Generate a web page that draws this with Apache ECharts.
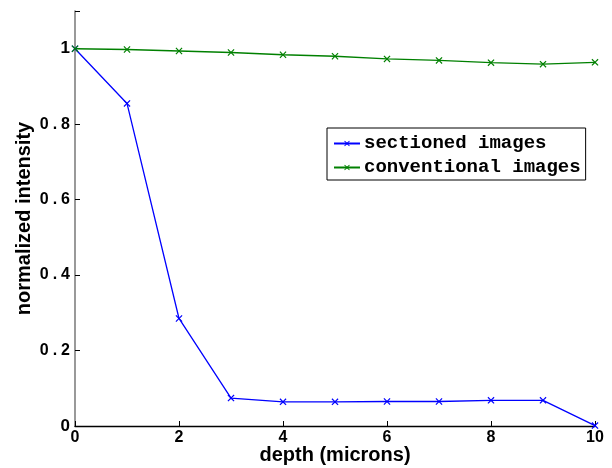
<!DOCTYPE html>
<html>
<head>
<meta charset="utf-8">
<script src="https://cdn.jsdelivr.net/npm/echarts@6/dist/echarts.min.js"></script>
<style>html,body{margin:0;padding:0;background:#fff}#c{width:612px;height:468px}</style>
</head>
<body>
<div id="c"></div>
<script>
const depth = [0,1,2,3,4,5,6,7,8,9,10];
const sectioned = [1.0,0.855,0.285,0.074,0.064,0.064,0.065,0.065,0.068,0.068,0.001];
const conventional = [1.0,0.998,0.994,0.990,0.984,0.980,0.973,0.969,0.963,0.959,0.964];
const seriesNames = ['sectioned images','conventional images'];
const xName = 'depth (microns)';
const yName = 'normalized intensity';

const xMark = 'path://M0,1.2L1.2,0L5,3.8L8.8,0L10,1.2L6.2,5L10,8.8L8.8,10L5,6.2L1.2,10L0,8.8L3.8,5Z';
const chart = echarts.init(document.getElementById('c'));
const mk = (name, data, color) => ({
  name, type: 'line',
  data: depth.map((d,i)=>[d,data[i]]),
  symbol: xMark, symbolSize: 7, showSymbol: true,
  lineStyle: {color, width: 1.3},
  itemStyle: {color, borderWidth: 0},
  emphasis: {disabled: true},
  animation: false
});
chart.setOption({
  animation: false,
  grid: {left: 75, right: 17, top: 11, bottom: 42, outerBoundsMode: 'none', containLabel: false},
  legend: {
    orient: 'vertical', left: 327, top: 128,
    backgroundColor: '#fff', borderColor: '#000', borderWidth: 1, borderRadius: 0,
    padding: [6, 5, 3, 6], itemWidth: 26, itemHeight: 7, itemGap: 5,
    textStyle: {fontFamily: 'Liberation Mono', fontWeight: 'bold', fontSize: 19, lineHeight: 16, color: '#000', padding: [0,0,0,-1]},
    data: seriesNames
  },
  xAxis: {
    type: 'value', min: 0, max: 10, interval: 2,
    name: xName, nameLocation: 'middle', nameGap: 19, nameMoveOverlap: false,
    nameTextStyle: {fontFamily: 'Liberation Sans', fontWeight: 'bold', fontSize: 20, color: '#000', verticalAlign: 'top'},
    axisLine: {show: true, lineStyle: {color: '#000', width: 1.3}},
    axisTick: {show: true, inside: true, length: 5, lineStyle: {color: '#000'}},
    axisLabel: {fontFamily: 'Liberation Sans', fontWeight: 'bold', fontSize: 16, color: '#000', margin: 4},
    splitLine: {show: false}
  },
  yAxis: {
    type: 'value', min: 0, max: 1.1, interval: 0.2,
    name: yName, nameLocation: 'middle', nameGap: 41, nameRotate: 90, nameMoveOverlap: false,
    nameTextStyle: {fontFamily: 'Liberation Sans', fontWeight: 'bold', fontSize: 20, color: '#000'},
    axisLine: {show: true, lineStyle: {color: '#808080', width: 1.6}},
    axisTick: {show: true, inside: true, length: 5, lineStyle: {color: '#000'}},
    axisLabel: {
      margin: 5,
      formatter: v => {
        if (v > 1.05) return '';
        const s = (Math.round(v*10)/10).toString();
        if (s === '0' || s === '1') return '{a|' + s + '}';
        const parts = s.split('.');
        return '{n|' + parts[0] + '}{p|.}{n|' + parts[1] + '}';
      },
      rich: {
        a: {fontFamily: 'Liberation Sans', fontWeight: 'bold', fontSize: 17, color: '#000'},
        n: {fontFamily: 'Liberation Sans', fontWeight: 'bold', fontSize: 16, color: '#000'},
        p: {fontFamily: 'Liberation Sans', fontWeight: 'bold', fontSize: 16, color: '#000', padding: [0, 4, 0, 4]}
      }
    },
    splitLine: {show: false}
  },
  series: [mk(seriesNames[0], sectioned, '#0000ff'), mk(seriesNames[1], conventional, '#008000')]
});
</script>
</body>
</html>
